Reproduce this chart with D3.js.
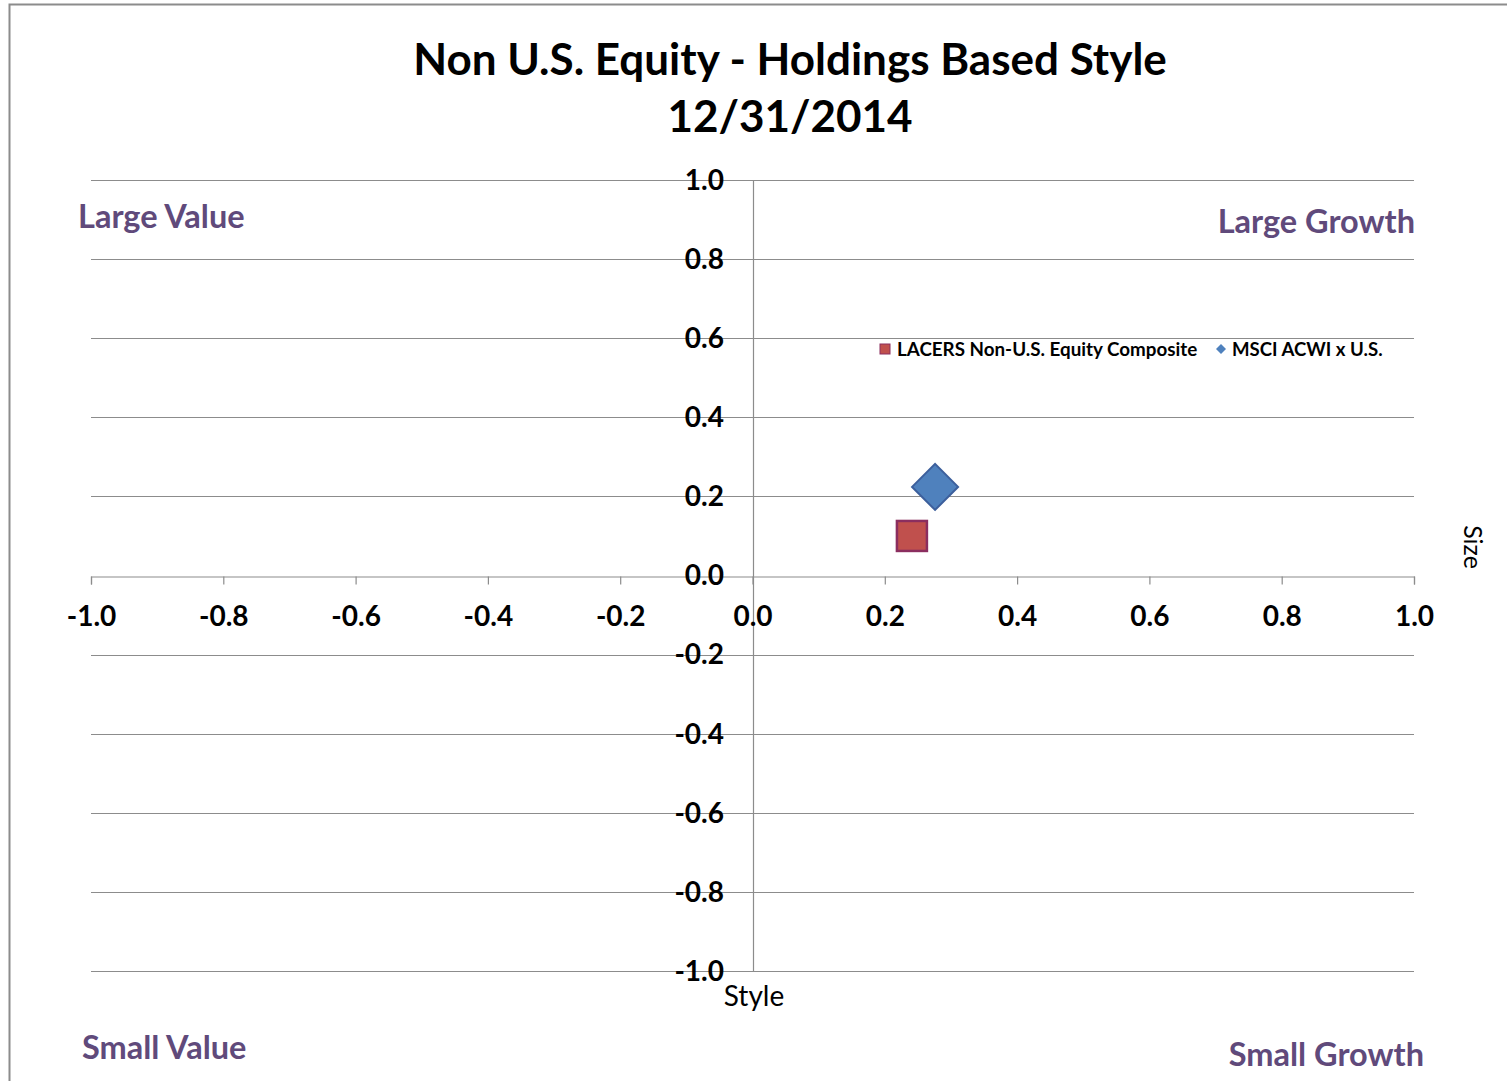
<!DOCTYPE html>
<meta charset='utf-8'>
<head>
<script src='https://d3js.org/d3.v7.min.js'></script>
<style>
  body{ margin:0; background:#fff; }
  svg text{ font-family: 'Lato', 'Open Sans', sans-serif; }
</style>
</head>
<body>
<svg id="chart" width="1507" height="1081"></svg>
<script>

  var seriesNames = ['LACERS Non-U.S. Equity Composite', 'MSCI ACWI x U.S.'];
  var styleValues = [0.241, 0.276];   // x
  var sizeValues  = [0.100, 0.224];   // y
  var xTicks = [-1.0, -0.8, -0.6, -0.4, -0.2, 0.0, 0.2, 0.4, 0.6, 0.8, 1.0];
  var yTicks = [1.0, 0.8, 0.6, 0.4, 0.2, 0.0, -0.2, -0.4, -0.6, -0.8, -1.0];
  var quadrantLabels = ['Large Value', 'Large Growth', 'Small Value', 'Small Growth'];

  // plain hyphen for negatives, like the original
  var fmt = function(d){ return d.toFixed(1).replace('\u2212', '-'); };

  var svg = d3.select('#chart');

  // outer frame
  svg.append('path')
    .attr('d', 'M9.5,1081 V4.5 H1507')
    .attr('fill', 'none')
    .attr('stroke', '#8c8c8c')
    .attr('stroke-width', 2);

  var x = d3.scaleLinear().domain([-1, 1]).range([91, 1414]);
  var y = d3.scaleLinear().domain([-1, 1]).range([971, 180]);

  // title
  svg.append('text')
    .attr('x', 790).attr('y', 75)
    .attr('text-anchor', 'middle')
    .style('font-size', '44px').style('font-weight', 'bold')
    .text('Non U.S. Equity - Holdings Based Style');
  svg.append('text')
    .attr('x', 790).attr('y', 132)
    .attr('text-anchor', 'middle')
    .style('font-size', '44px').style('font-weight', 'bold')
    .text('12/31/2014');

  // horizontal gridlines
  svg.append('g').selectAll('line')
    .data(yTicks.filter(function(d){ return d !== 0; }))
    .enter().append('line')
      .attr('x1', x(-1)).attr('x2', x(1))
      .attr('y1', function(d){ return Math.round(y(d)) + 0.5; })
      .attr('y2', function(d){ return Math.round(y(d)) + 0.5; })
      .attr('stroke', '#8c8c8c')
      .attr('stroke-width', 1.2);

  // vertical axis (size)
  svg.append('line')
    .attr('x1', Math.round(x(0)) + 0.5).attr('x2', Math.round(x(0)) + 0.5)
    .attr('y1', y(1)).attr('y2', y(-1))
    .attr('stroke', '#8c8c8c').attr('stroke-width', 1.2);

  // horizontal axis (style) with ticks
  var xAxis = d3.axisBottom(x)
    .tickValues(xTicks)
    .tickSize(8)
    .tickFormat(fmt);
  var gx = svg.append('g')
    .attr('transform', 'translate(0,' + (Math.round(y(0)) + 0.5) + ')')
    .call(xAxis);
  gx.select('.domain').attr('stroke', '#8c8c8c').attr('stroke-width', 1.2);
  gx.selectAll('.tick line').attr('stroke', '#8c8c8c').attr('stroke-width', 1.2);
  gx.selectAll('.tick text')
    .attr('y', 41).attr('dy', '0.32em')
    .attr('fill', '#000')
    .style('font-family', 'Lato, sans-serif')
    .style('font-size', '28px').style('font-weight', 'bold');

  // y labels (no ticks), sitting on the gridlines
  svg.append('g').selectAll('text')
    .data(yTicks)
    .enter().append('text')
      .attr('x', 724)
      .attr('y', function(d){ return y(d); })
      .attr('dy', '0.35em')
      .attr('text-anchor', 'end')
      .style('font-size', '28px').style('font-weight', 'bold')
      .text(fmt);

  // axis titles
  svg.append('text')
    .attr('x', 754).attr('y', 1006)
    .attr('text-anchor', 'middle')
    .style('font-size', '28px')
    .text('Style');
  svg.append('text')
    .attr('transform', 'translate(1464,547) rotate(90)')
    .attr('text-anchor', 'middle')
    .style('font-size', '25px')
    .text('Size');

  // quadrant labels
  var purple = '#604a7b';
  var qPos = [
    {x: 78, y: 228, anchor: 'start'},
    {x: 1415, y: 233, anchor: 'end'},
    {x: 82, y: 1059, anchor: 'start'},
    {x: 1424, y: 1066, anchor: 'end'}
  ];
  svg.append('g').selectAll('text')
    .data(quadrantLabels)
    .enter().append('text')
      .attr('x', function(d, i){ return qPos[i].x; })
      .attr('y', function(d, i){ return qPos[i].y; })
      .attr('text-anchor', function(d, i){ return qPos[i].anchor; })
      .attr('fill', purple)
      .style('font-size', '32.5px').style('font-weight', 'bold')
      .text(function(d){ return d; });

  // markers
  var colors = ['#c0504d', '#4f81bd'];
  var strokes = ['#8b2e5f', '#3c5f9c'];

  svg.append('rect')
    .attr('x', x(styleValues[0]) - 15)
    .attr('y', y(sizeValues[0]) - 15)
    .attr('width', 30).attr('height', 30)
    .attr('fill', colors[0])
    .attr('stroke', strokes[0]).attr('stroke-width', 2.5);

  svg.append('path')
    .attr('transform', 'translate(' + x(styleValues[1]) + ',' + y(sizeValues[1]) + ')')
    .attr('d', 'M0,-23 L23,0 L0,23 L-23,0 Z')
    .attr('fill', colors[1])
    .attr('stroke', strokes[1]).attr('stroke-width', 2);

  // legend
  var legend = svg.append('g').attr('transform', 'translate(880,349)');
  legend.append('rect')
    .attr('x', 0).attr('y', -5).attr('width', 10).attr('height', 10)
    .attr('fill', colors[0]).attr('stroke', strokes[0]).attr('stroke-width', 1);
  legend.append('text')
    .attr('x', 17).attr('y', 0).attr('dy', '0.35em')
    .style('font-size', '18.8px').style('font-weight', 'bold')
    .text(seriesNames[0]);
  legend.append('path')
    .attr('d', 'M341,-5 L346,0 L341,5 L336,0 Z')
    .attr('fill', colors[1]);
  legend.append('text')
    .attr('x', 352).attr('y', 0).attr('dy', '0.35em')
    .style('font-size', '18.6px').style('font-weight', 'bold')
    .text(seriesNames[1]);

</script>
</body>
</html>
